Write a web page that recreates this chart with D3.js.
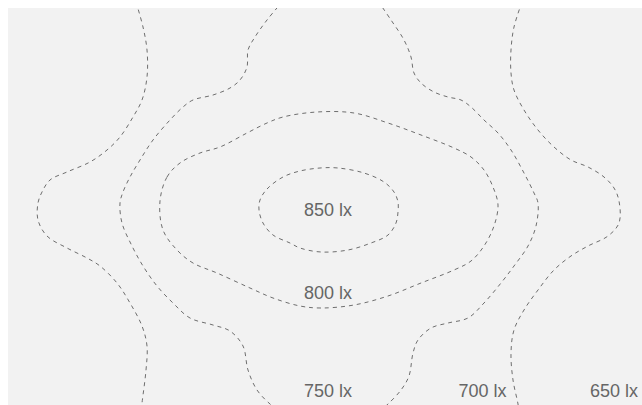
<!DOCTYPE html>
<html>
<head>
<meta charset="utf-8">
<script src="https://cdn.jsdelivr.net/npm/d3@7"></script>
<style>
  html, body { margin: 0; padding: 0; background: #ffffff; overflow: hidden; }
  svg { display: block; }
</style>
</head>
<body>
<div id="chart"></div>
<script>
// Room size in metres
const roomWidth = 16;
const roomHeight = 10;

// Isolux lines, points in metres [x, y]
const iso700West = [[3.2,-0.15],[3.375,0.475],[3.475,1.05],[3.475,1.725],[3.35,2.3],[3.125,2.725],[2.8,3.225],[2.475,3.55],[2.05,3.85],[1.475,4.1],[1.05,4.3],[0.85,4.6],[0.75,4.875],[0.75,5.3],[0.975,5.7],[1.475,6.0],[1.975,6.25],[2.3,6.45],[2.725,6.875],[3.05,7.375],[3.35,7.95],[3.475,8.45],[3.45,9.05],[3.35,9.875],[3.325,10.1]];
const iso700East = [[12.85,-0.15],[12.65,0.475],[12.575,1.05],[12.575,1.625],[12.65,2.05],[12.9,2.55],[13.25,3.05],[13.65,3.475],[14.075,3.8],[14.5,3.975],[14.9,4.225],[15.15,4.5],[15.275,4.825],[15.275,5.375],[15.0,5.7],[14.5,5.95],[14.075,6.2],[13.65,6.55],[13.25,7.05],[12.9,7.55],[12.65,8.05],[12.575,8.625],[12.625,9.3],[12.75,9.9],[12.775,10.1]];
const iso750West = [[6.875,-0.175],[6.475,0.3],[6.175,0.725],[6.0,1.05],[5.975,1.475],[5.8,1.8],[5.55,2.0],[5.125,2.175],[4.625,2.3],[4.375,2.475],[4.05,2.8],[3.625,3.3],[3.3,3.8],[3.05,4.225],[2.875,4.6],[2.8,4.875],[2.85,5.375],[3.1,5.95],[3.375,6.45],[3.725,6.95],[4.125,7.375],[4.55,7.75],[5.125,7.925],[5.55,8.075],[5.875,8.45],[6.0,9.05],[6.225,9.55],[6.55,9.9],[6.75,10.05]];
const iso750East = [[9.25,-0.175],[9.575,0.3],[9.9,0.8],[10.075,1.225],[10.15,1.625],[10.325,1.875],[10.65,2.1],[11.0,2.225],[11.325,2.3],[11.575,2.475],[11.9,2.8],[12.25,3.125],[12.575,3.55],[12.9,4.125],[13.15,4.625],[13.25,4.875],[13.2,5.45],[13.0,5.95],[12.65,6.45],[12.325,6.875],[11.9,7.375],[11.5,7.75],[11.0,7.875],[10.575,8.0],[10.25,8.3],[10.125,8.625],[10.025,9.2],[9.825,9.55],[9.5,9.9],[9.325,10.05]];
const iso800 = [[3.8,4.825],[3.975,4.225],[4.3,3.875],[4.8,3.625],[5.3,3.475],[5.975,3.125],[6.475,2.875],[6.875,2.725],[7.725,2.6],[8.65,2.625],[9.5,2.875],[10.325,3.175],[11.15,3.5],[11.575,3.725],[11.9,4.05],[12.125,4.475],[12.25,4.925],[12.15,5.45],[11.9,5.95],[11.575,6.325],[11.15,6.55],[10.325,6.875],[9.5,7.2],[8.65,7.425],[7.825,7.5],[7.3,7.45],[6.625,7.25],[6.05,7.0],[5.225,6.625],[4.625,6.375],[4.225,6.05],[3.875,5.55]];
const iso850 = [[6.3,4.8],[6.475,4.525],[6.875,4.225],[7.3,4.075],[7.8,4.0],[8.25,4.0],[8.9,4.125],[9.4,4.35],[9.65,4.6],[9.75,4.85],[9.75,5.1],[9.7,5.375],[9.5,5.675],[9.075,5.875],[8.5,6.05],[7.825,6.1],[7.3,6.0],[7.05,5.875],[6.625,5.675],[6.375,5.375],[6.275,5.05]];

// Labels (illuminance value, position in metres)
const labelValues = [850, 800, 750, 700, 650];
const labelX = [8.0, 8.0, 8.0, 11.86, 15.15];
const labelY = [5.2, 7.275, 9.725, 9.725, 9.725];

const openLines = [iso700West, iso700East, iso750West, iso750East];
const closedLines = [iso800, iso850];

const margin = {top: 8, left: 8};
const pxPerM = 40;
const width = 642, height = 405;

const x = d3.scaleLinear().domain([0, roomWidth]).range([0, roomWidth * pxPerM]);
const y = d3.scaleLinear().domain([0, roomHeight]).range([0, roomHeight * pxPerM]);

const svg = d3.select("#chart").append("svg")
  .attr("width", width).attr("height", height);

const g = svg.append("g").attr("transform", `translate(${margin.left},${margin.top})`);

svg.append("defs").append("clipPath").attr("id", "room")
  .append("rect")
  .attr("x", x(0)).attr("y", y(0))
  .attr("width", x(roomWidth) - x(0)).attr("height", y(roomHeight) - y(0));

g.append("rect")
  .attr("x", x(0)).attr("y", y(0))
  .attr("width", x(roomWidth) - x(0)).attr("height", y(roomHeight) - y(0))
  .attr("fill", "#f2f2f2");

const lines = g.append("g").attr("clip-path", "url(#room)");

const openGen = d3.line().x(d => x(d[0])).y(d => y(d[1])).curve(d3.curveCatmullRom.alpha(0.5));
const closedGen = d3.line().x(d => x(d[0])).y(d => y(d[1])).curve(d3.curveCatmullRomClosed.alpha(0.5));

lines.selectAll("path.open").data(openLines).join("path")
  .attr("class", "open")
  .attr("d", openGen)
  .attr("fill", "none")
  .attr("stroke", "#6e6e6e")
  .attr("stroke-width", 1)
  .attr("stroke-dasharray", "4,4");

lines.selectAll("path.closed").data(closedLines).join("path")
  .attr("class", "closed")
  .attr("d", closedGen)
  .attr("fill", "none")
  .attr("stroke", "#6e6e6e")
  .attr("stroke-width", 1)
  .attr("stroke-dasharray", "4,4");

g.selectAll("text.lbl").data(labelValues).join("text")
  .attr("class", "lbl")
  .attr("x", (d, i) => x(labelX[i]))
  .attr("y", (d, i) => y(labelY[i]))
  .attr("text-anchor", "middle")
  .attr("font-family", "Liberation Sans, Arial, sans-serif")
  .attr("font-size", 18)
  .attr("fill", "#666666")
  .text(d => `${d} lx`);
</script>
</body>
</html>
